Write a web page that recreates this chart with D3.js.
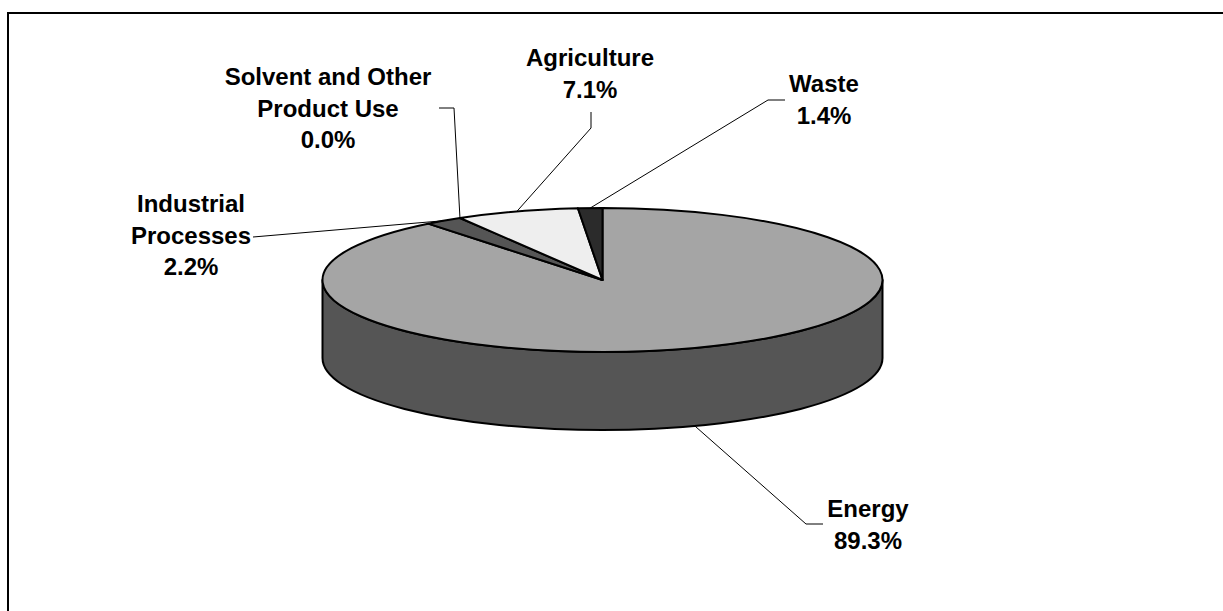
<!DOCTYPE html>
<html>
<head>
<meta charset="utf-8">
<script src="https://cdn.jsdelivr.net/npm/d3@7"></script>
<style>
  body { margin: 0; background: #fff; }
  svg { display: block; }
</style>
</head>
<body>
<div id="chart"></div>
<script>
// Data
var categories = ["Energy", "Industrial Processes", "Solvent and Other Product Use", "Agriculture", "Waste"];
var shares = [89.3, 2.2, 0.0, 7.1, 1.4];
var nameLines = [["Energy"], ["Industrial", "Processes"], ["Solvent and Other", "Product Use"], ["Agriculture"], ["Waste"]];

// Styles
var topColors = ["#a5a5a5", "#555555", "#8c8c8c", "#eeeeee", "#2b2b2b"];
var sideColors = ["#555555", "#333333", "#555555", "#9a9a9a", "#1a1a1a"];

// Label layout: first baseline and centre, plus leader path from the label side
var labelLayout = [
  { x: 868, y: 517, leader: [[823, 524], [806, 524]] },
  { x: 191, y: 212, leader: [[253, 237]] },
  { x: 328, y: 85, leader: [[439, 108], [454, 108]] },
  { x: 590, y: 66, leader: [[591, 112], [591, 128]] },
  { x: 824, y: 92, leader: [[785, 100], [768, 100]] }
];

var svgWidth = 1223;
var svgHeight = 611;

// Pie geometry
var cx = 602.5, cy = 280, rx = 280, ry = 72, depth = 78;

var svg = d3.select("#chart")
  .append("svg")
  .attr("width", svgWidth)
  .attr("height", svgHeight);

// frame (only top and left edges show)
svg.append("path")
  .attr("d", "M8,611 L8,13 L1223,13")
  .attr("fill", "none")
  .attr("stroke", "#000")
  .attr("stroke-width", 2);

var data = categories.map(function(c, i) {
  return { name: c, value: shares[i], lines: nameLines[i], i: i };
});

var pie = d3.pie()
  .sort(null)
  .value(function(d) { return d.value; });

var arcs = pie(data);

var color = d3.scaleOrdinal().domain(categories).range(topColors);
var sideColor = d3.scaleOrdinal().domain(categories).range(sideColors);

function pt(a, dy) {
  return [cx + rx * Math.sin(a), cy - ry * Math.cos(a) + (dy || 0)];
}

// Sides (only the front half is visible)
var front0 = Math.PI / 2, front1 = 3 * Math.PI / 2;
var sides = svg.append("g");
arcs.forEach(function(a) {
  var s = Math.max(a.startAngle, front0);
  var e = Math.min(a.endAngle, front1);
  if (e <= s) return;
  var p0 = pt(s), p1 = pt(e), p2 = pt(e, depth), p3 = pt(s, depth);
  var large = (e - s) > Math.PI ? 1 : 0;
  var d = "M" + p0 + " A" + rx + "," + ry + " 0 " + large + " 1 " + p1 +
    " L" + p2 + " A" + rx + "," + ry + " 0 " + large + " 0 " + p3 + " Z";
  sides.append("path")
    .attr("d", d)
    .attr("fill", sideColor(a.data.name))
    .attr("stroke", "#000")
    .attr("stroke-width", 2)
    .attr("stroke-linejoin", "round");
});

// Tops
var tops = svg.append("g");
arcs.forEach(function(a) {
  if (a.endAngle - a.startAngle <= 0) return;
  var p0 = pt(a.startAngle), p1 = pt(a.endAngle);
  var large = (a.endAngle - a.startAngle) > Math.PI ? 1 : 0;
  var d = "M" + cx + "," + cy + " L" + p0 + " A" + rx + "," + ry + " 0 " + large + " 1 " + p1 + " Z";
  tops.append("path")
    .attr("d", d)
    .attr("fill", color(a.data.name))
    .attr("stroke", "#000")
    .attr("stroke-width", 2)
    .attr("stroke-linejoin", "round");
});

// Leader lines
var line = d3.line();
var fmt = d3.format(".1f");
arcs.forEach(function(a, i) {
  var mid = (a.startAngle + a.endAngle) / 2;
  var onFront = mid > front0 && mid < front1;
  var anchor = pt(mid, onFront ? depth : 0);
  var pts = labelLayout[i].leader.concat([anchor]);
  svg.append("path")
    .attr("d", line(pts))
    .attr("fill", "none")
    .attr("stroke", "#000")
    .attr("stroke-width", 1);
});

// Labels
var lineH = 31.5;
arcs.forEach(function(a, i) {
  var lay = labelLayout[i];
  var rows = a.data.lines.concat([fmt(a.data.value) + "%"]);
  var t = svg.append("text")
    .attr("text-anchor", "middle")
    .style("font-family", "Arial, 'Liberation Sans', sans-serif")
    .style("font-weight", "bold")
    .style("font-size", "24px")
    .attr("fill", "#000");
  rows.forEach(function(r, k) {
    t.append("tspan")
      .attr("x", lay.x)
      .attr("y", lay.y + k * lineH)
      .text(r);
  });
});
</script>
</body>
</html>
